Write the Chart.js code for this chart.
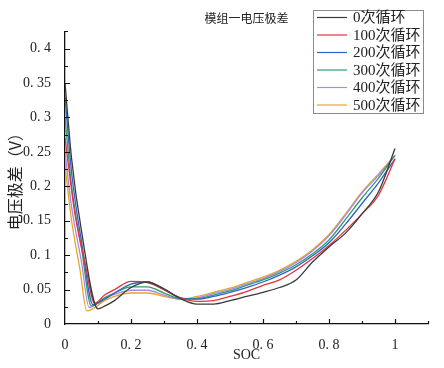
<!DOCTYPE html>
<html>
<head>
<meta charset="utf-8">
<script src="https://cdn.jsdelivr.net/npm/chart.js@4.4.0/dist/chart.umd.min.js"></script>
<style>
  body { margin: 0; background: #fff; }
  canvas { display: block; }
</style>
</head>
<body>
<canvas id="chart" width="444" height="368"></canvas>
<script>
// Series labels and colours
const cycleLabels = ['0次循环', '100次循环', '200次循环', '300次循环', '400次循环', '500次循环'];
const cycleColors = ['#3a3a3a', '#e5333b', '#2f62c8', '#2e9c6e', '#a98ae2', '#e4a62a'];

// SOC / voltage-spread readings for each series
const soc0   = [0, 0.02, 0.05, 0.1, 0.12, 0.15, 0.2, 0.25, 0.3, 0.35, 0.4, 0.45, 0.5, 0.55, 0.6, 0.65, 0.7, 0.75, 0.8, 0.85, 0.9, 0.95, 1.0];
const val0   = [0.35, 0.24, 0.135, 0.022, 0.026, 0.034, 0.053, 0.061, 0.051, 0.037, 0.029, 0.029, 0.034, 0.04, 0.046, 0.053, 0.064, 0.09, 0.112, 0.132, 0.16, 0.192, 0.255];

const soc100 = [0, 0.03, 0.06, 0.09, 0.12, 0.15, 0.2, 0.25, 0.3, 0.35, 0.4, 0.45, 0.5, 0.55, 0.6, 0.65, 0.7, 0.75, 0.8, 0.85, 0.9, 0.95, 1.0];
const val100 = [0.27, 0.16, 0.09, 0.03, 0.042, 0.05, 0.062, 0.06, 0.05, 0.038, 0.033, 0.034, 0.04, 0.047, 0.056, 0.064, 0.078, 0.095, 0.114, 0.136, 0.16, 0.187, 0.24];

const soc200 = [0, 0.02, 0.05, 0.085, 0.12, 0.15, 0.2, 0.25, 0.3, 0.35, 0.4, 0.45, 0.5, 0.55, 0.6, 0.65, 0.7, 0.75, 0.8, 0.85, 0.9, 0.95, 1.0];
const val200 = [0.33, 0.22, 0.12, 0.028, 0.036, 0.045, 0.058, 0.061, 0.05, 0.038, 0.036, 0.04, 0.046, 0.053, 0.061, 0.071, 0.083, 0.099, 0.118, 0.145, 0.175, 0.205, 0.24];

const soc300 = [0, 0.02, 0.05, 0.08, 0.12, 0.15, 0.2, 0.25, 0.3, 0.35, 0.4, 0.45, 0.5, 0.55, 0.6, 0.65, 0.7, 0.75, 0.8, 0.85, 0.9, 0.95, 1.0];
const val300 = [0.3, 0.2, 0.11, 0.026, 0.038, 0.045, 0.054, 0.054, 0.045, 0.037, 0.037, 0.042, 0.048, 0.056, 0.064, 0.074, 0.086, 0.102, 0.122, 0.152, 0.183, 0.212, 0.245];

const soc400 = [0, 0.02, 0.05, 0.073, 0.12, 0.15, 0.2, 0.25, 0.3, 0.35, 0.4, 0.45, 0.5, 0.55, 0.6, 0.65, 0.7, 0.75, 0.8, 0.85, 0.9, 0.95, 1.0];
const val400 = [0.25, 0.17, 0.09, 0.024, 0.038, 0.043, 0.049, 0.049, 0.042, 0.036, 0.038, 0.044, 0.05, 0.058, 0.066, 0.076, 0.089, 0.106, 0.128, 0.158, 0.19, 0.216, 0.245];

const soc500 = [0, 0.02, 0.045, 0.066, 0.12, 0.15, 0.2, 0.25, 0.3, 0.35, 0.4, 0.45, 0.5, 0.55, 0.6, 0.65, 0.7, 0.75, 0.8, 0.85, 0.9, 0.95, 1.0];
const val500 = [0.23, 0.15, 0.08, 0.019, 0.034, 0.04, 0.045, 0.045, 0.04, 0.036, 0.04, 0.046, 0.052, 0.06, 0.068, 0.078, 0.091, 0.108, 0.13, 0.16, 0.192, 0.218, 0.245];

const socSeries = [soc0, soc100, soc200, soc300, soc400, soc500];
const valSeries = [val0, val100, val200, val300, val400, val500];

// Axis ranges
const xMin = 0, xMax = 1.1, xStep = 0.2, xMinor = 0.1;
const yMin = 0, yMax = 0.425, yStep = 0.05, yMinor = 0.025;

const serif = '"Liberation Serif", "Noto Sans CJK SC", serif';
const cjk = '"Noto Sans CJK SC", "Liberation Serif", sans-serif';

function fmtTick(v) {
  if (Math.abs(v) < 1e-9) return '0';
  let s = (Math.round(v * 100) / 100).toString();
  return s.replace('.', '. ');
}

// Inward tick marks (major + minor) drawn on the axis lines
const innerTicks = {
  id: 'innerTicks',
  afterDraw(chart) {
    const ctx = chart.ctx;
    const xs = chart.scales.x, ys = chart.scales.y;
    const area = chart.chartArea;
    ctx.save();
    ctx.strokeStyle = '#111';
    ctx.lineWidth = 1.2;
    ctx.beginPath();
    for (let i = 1; xMin + i * xMinor <= xMax + 1e-9; i++) {
      const px = Math.round(xs.getPixelForValue(xMin + i * xMinor)) + 0.5;
      const len = (i % 2 === 0) ? 5 : 3;
      ctx.moveTo(px, area.bottom);
      ctx.lineTo(px, area.bottom - len);
    }
    for (let i = 1; yMin + i * yMinor <= yMax + 1e-9; i++) {
      const py = Math.round(ys.getPixelForValue(yMin + i * yMinor)) + 0.5;
      const len = (i % 2 === 0) ? 5 : 3;
      ctx.moveTo(area.left, py);
      ctx.lineTo(area.left + len, py);
    }
    ctx.stroke();
    ctx.restore();
  }
};

// Boxed legend in the upper right
const boxLegend = {
  id: 'boxLegend',
  afterDraw(chart) {
    const ctx = chart.ctx;
    const x0 = 313, y0 = 10, w = 110, h = 103;
    ctx.save();
    ctx.fillStyle = '#fff';
    ctx.fillRect(x0, y0, w, h);
    ctx.strokeStyle = '#8a8a8a';
    ctx.lineWidth = 1;
    ctx.strokeRect(x0 + 0.5, y0 + 0.5, w, h);
    ctx.font = '15px ' + serif;
    ctx.textBaseline = 'middle';
    ctx.fillStyle = '#222';
    chart.data.datasets.forEach((ds, i) => {
      const ry = 17.5 + i * 17.5;
      ctx.strokeStyle = ds.borderColor;
      ctx.lineWidth = 1.2;
      ctx.beginPath();
      ctx.moveTo(317, ry);
      ctx.lineTo(347, ry);
      ctx.stroke();
      ctx.fillText(ds.label, 353, ry + 1);
    });
    ctx.restore();
  }
};

const datasets = cycleLabels.map((label, i) => ({
  label: label,
  data: socSeries[i].map((s, k) => ({ x: s, y: valSeries[i][k] })),
  borderColor: cycleColors[i],
  backgroundColor: cycleColors[i],
  borderWidth: 1.3,
  pointRadius: 0,
  cubicInterpolationMode: 'monotone',
  fill: false,
}));

const ctx = document.getElementById('chart').getContext('2d');
new Chart(ctx, {
  type: 'line',
  data: { datasets: datasets },
  options: {
    responsive: false,
    animation: false,
    devicePixelRatio: 1,
    layout: { padding: { left: 0, right: 16, top: 0, bottom: 0 } },
    plugins: {
      legend: { display: false },
      tooltip: { enabled: false },
      title: {
        display: true,
        text: '模组一电压极差',
        fullSize: false,
        color: '#222',
        font: { family: cjk, size: 12, weight: 'normal' },
        padding: { top: 11, bottom: 6 },
      },
    },
    scales: {
      x: {
        type: 'linear',
        min: xMin,
        max: xMax,
        afterFit: (s) => { s.height = 44; },
        grid: { display: false },
        border: { display: true, color: '#111', width: 1.3 },
        ticks: {
          stepSize: xStep,
          includeBounds: false,
          padding: 5,
          color: '#222',
          font: { family: serif, size: 14 },
          maxRotation: 0,
          callback: (v) => fmtTick(v),
        },
        title: {
          display: true,
          text: 'SOC',
          color: '#222',
          font: { family: serif, size: 14 },
          padding: { top: 0, bottom: 4 },
        },
      },
      y: {
        type: 'linear',
        min: yMin,
        max: yMax,
        afterFit: (s) => { s.width = 65; },
        grid: { display: false },
        border: { display: true, color: '#111', width: 1.3 },
        ticks: {
          stepSize: yStep,
          includeBounds: false,
          padding: 6,
          color: '#222',
          font: { family: serif, size: 14 },
          callback: (v) => fmtTick(v),
        },
        title: {
          display: true,
          text: '电压极差（V）',
          color: '#222',
          font: { family: cjk, size: 16, weight: 'normal' },
          padding: { top: 5, bottom: 0 },
        },
      },
    },
  },
  plugins: [innerTicks, boxLegend],
});
</script>
</body>
</html>
